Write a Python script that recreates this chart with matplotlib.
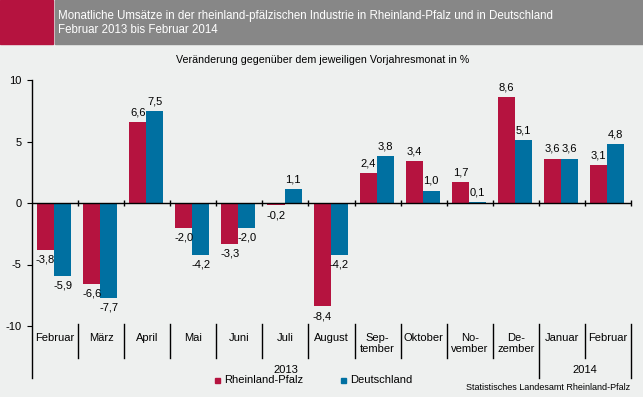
import numpy as np
import matplotlib.pyplot as plt
from matplotlib.patches import Rectangle

plt.rcParams['font.family'] = ['Liberation Sans', 'DejaVu Sans']

# --- Daten ---
monate = ["Februar", "März", "April", "Mai", "Juni", "Juli", "August",
          "Sep-\ntember", "Oktober", "No-\nvember", "De-\nzember", "Januar", "Februar"]
rlp = [-3.8, -6.6, 6.6, -2.0, -3.3, -0.2, -8.4, 2.4, 3.4, 1.7, 8.6, 3.6, 3.1]
de = [-5.9, -7.7, 7.5, -4.2, -2.0, 1.1, -4.2, 3.8, 1.0, 0.1, 5.1, 3.6, 4.8]
jahre = ["2013", "2014"]
jahr_von_bis = [(0, 10), (11, 12)]   # Index erster/letzter Monat je Jahr

rot = '#B5133F'
blau = '#0070A1'
grau = '#878787'
hg = '#EEF0EF'

fig = plt.figure(figsize=(6.43, 3.97), dpi=100, facecolor=hg)

# Kopfzeile
fig.patches.append(Rectangle((0, 1 - 44 / 397), 53 / 643, 44 / 397,
                             transform=fig.transFigure, color=rot, zorder=0))
fig.patches.append(Rectangle((55 / 643, 1 - 44 / 397), 1, 44 / 397,
                             transform=fig.transFigure, color=grau, zorder=0))
fig.text(58 / 643, 1 - 16 / 397,
         "Monatliche Umsätze in der rheinland-pfälzischen Industrie in Rheinland-Pfalz und in Deutschland",
         color='white', fontsize=8.3, va='center', ha='left')
fig.text(58 / 643, 1 - 30 / 397, "Februar 2013 bis Februar 2014",
         color='white', fontsize=8.3, va='center', ha='left')
fig.text(0.501, 1 - 60 / 397, "Veränderung gegenüber dem jeweiligen Vorjahresmonat in %",
         fontsize=7.7, ha='center', va='center')

ax = fig.add_axes([32 / 643, 1 - 326 / 397, 599 / 643, 246 / 397])
ax.set_facecolor(hg)

x = np.arange(len(monate))
w = 0.37
ax.bar(x - w / 2 - 0.02, rlp, w, color=rot, zorder=2)
ax.bar(x + w / 2 - 0.02, de, w, color=blau, zorder=2)

def fmt(v):
    return f"{v:.1f}".replace('.', ',')

for xi, v in zip(x - w / 2 - 0.02, rlp):
    ax.annotate(fmt(v), (xi, v), xytext=(0, 7 if v >= 0 else -7), textcoords='offset points',
                ha='center', va='center', fontsize=8)
for xi, v in zip(x + w / 2 - 0.02, de):
    ax.annotate(fmt(v), (xi, v), xytext=(0, 7 if v >= 0 else -7), textcoords='offset points',
                ha='center', va='center', fontsize=8)

ax.set_xlim(-0.5, len(monate) - 0.5)
ax.set_ylim(-10, 10)
ax.set_yticks([-10, -5, 0, 5, 10])
ax.set_yticklabels(["-10", "-5", "0", "5", "10"], fontsize=8)
ax.tick_params(axis='y', length=3.5, width=0.8, pad=4)
ax.set_xticks([])
for s in ax.spines.values():
    s.set_visible(False)

# y-Achse bis unter die Jahresbeschriftung
ax.plot([-0.5, -0.5], [1, -0.211], color='black', lw=1, transform=ax.get_xaxis_transform(),
        clip_on=False, zorder=3)
# Nulllinie mit Teilstrichen
ax.axhline(0, color='black', lw=1, zorder=3)
grenzen = np.arange(0.5, len(monate), 1.0)
ax.plot(grenzen, np.zeros_like(grenzen), ls='none', marker='|', ms=5, mew=1, color='black',
        zorder=3, clip_on=False)

trans = ax.get_xaxis_transform()
for g in grenzen[:-1]:
    unten = -0.211 if g == 10.5 else -0.130
    ax.plot([g, g], [0.01, unten], color='black', lw=1, transform=trans, clip_on=False)
ax.plot([12.5, 12.5], [0.01, -0.211], color='black', lw=1, transform=trans, clip_on=False)

for xi, m in zip(x, monate):
    ax.text(xi, -0.028, m, transform=trans, ha='center', va='top', fontsize=8, linespacing=1.2)

for j, (a, b) in zip(jahre, jahr_von_bis):
    ax.text((a + b) / 2, -0.179, j, transform=trans, ha='center', va='center', fontsize=8)

# Legende
fig.patches.append(Rectangle((215 / 643, 1 - 382.5 / 397), 5 / 643, 5 / 397,
                             transform=fig.transFigure, color=rot))
fig.text(224 / 643, 1 - 380 / 397, "Rheinland-Pfalz", fontsize=8, va='center', ha='left')
fig.patches.append(Rectangle((341 / 643, 1 - 382.5 / 397), 5 / 643, 5 / 397,
                             transform=fig.transFigure, color=blau))
fig.text(350 / 643, 1 - 380 / 397, "Deutschland", fontsize=8, va='center', ha='left')

fig.text(630 / 643, 1 - 388 / 397, "Statistisches Landesamt Rheinland-Pfalz",
         fontsize=6.5, va='center', ha='right')

fig.savefig("out.png", dpi=100, facecolor=hg)
